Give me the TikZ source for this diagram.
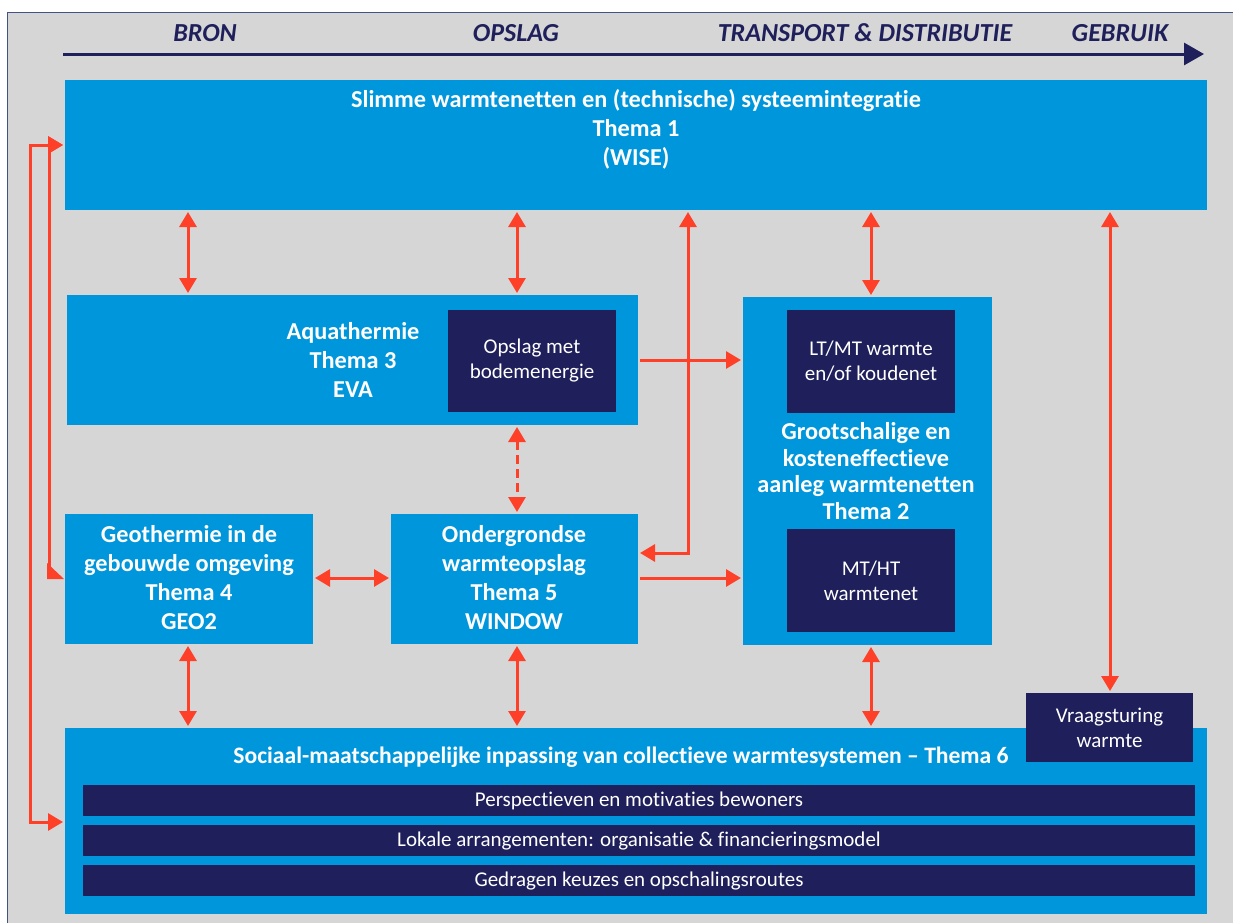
\documentclass[tikz,border=0pt]{standalone}
\usepackage{fontspec}
\setmainfont{Carlito}[Ligatures=NoCommon]
\usetikzlibrary{arrows.meta}
\definecolor{lblue}{RGB}{0,150,220}
\definecolor{navy}{RGB}{31,31,91}
\definecolor{bggray}{RGB}{214,214,214}
\definecolor{arrred}{RGB}{255,64,40}
\definecolor{framecol}{RGB}{68,84,130}
\begin{document}
\begin{tikzpicture}[x=1pt,y=-1pt,
  lbox/.style={fill=lblue, draw=none, inner sep=0pt, outer sep=0pt, anchor=north west},
  dbox/.style={fill=navy, text=white, inner sep=0pt, outer sep=0pt, anchor=north west, align=center, font=\fontsize{21}{25}\selectfont},
  ttl/.style={text=white, font=\bfseries\fontsize{24.3}{29}\selectfont, align=center, inner sep=0pt},
  hdr/.style={text=navy, font=\bfseries\itshape\fontsize{26}{30}\selectfont, inner sep=0pt},
  arr/.style={draw=arrred, line width=3pt, {Triangle[length=15pt,width=17pt]}-{Triangle[length=15pt,width=17pt]}, shorten <=2pt, shorten >=2pt},
  arrone/.style={draw=arrred, line width=3pt, -{Triangle[length=15pt,width=17pt]}, shorten <=2pt, shorten >=2pt},
  arrstart/.style={draw=arrred, line width=3pt, {Triangle[length=15pt,width=17pt]}-, shorten <=2pt}]
\useasboundingbox (0,0) rectangle (1233,922);
\fill[white] (0,0) rectangle (1233,922);
\draw[fill=bggray, draw=framecol, line width=1pt] (7,12) rectangle (1245,935);

% header
\node[hdr] (bron) at (205,33) {BRON};
\node[hdr] (opslag) at (516,33) {OPSLAG};
\node[hdr] (transp) at (865,33) {TRANSPORT \& DISTRIBUTIE};
\node[hdr] (gebruik) at (1120,33) {GEBRUIK};
\coordinate (hs) at (63,54);
\coordinate (he) at (1204,54);
\draw[navy, line width=3pt, -{Triangle[length=20pt,width=22pt]}] (hs) -- (he);

% boxes
\node[lbox, minimum width=1142, minimum height=130] (wise) at (65,80) {};
\node[ttl] (wiset) at (636,129.5) {Slimme warmtenetten en (technische) systeemintegratie\\Thema 1\\(WISE)};

\node[lbox, minimum width=571, minimum height=130] (aq) at (67,295) {};
\node[ttl] (aqt) at (353,360) {Aquathermie\\Thema 3\\EVA};
\node[dbox, minimum width=168, minimum height=102] (opsl) at (448,310) {Opslag met\\bodemenergie};

\node[lbox, minimum width=249, minimum height=348] (t2) at (743,297) {};
\node[dbox, minimum width=168, minimum height=103] (ltmt) at (787,310) {LT/MT warmte\\en/of koudenet};
\node[dbox, minimum width=168, minimum height=103] (mtht) at (787,529) {MT/HT\\warmtenet};
\node[ttl, font=\bfseries\fontsize{24.3}{26.5}\selectfont] (t2t) at (866,471) {Grootschalige en\\kosteneffectieve\\aanleg warmtenetten\\Thema 2};

\node[lbox, minimum width=248, minimum height=130] (geo) at (65,514) {};
\node[ttl] (geot) at (189,578) {Geothermie in de\\gebouwde omgeving\\Thema 4\\GEO2};

\node[lbox, minimum width=247, minimum height=130] (ond) at (391,514) {};
\node[ttl] (ondt) at (514,578) {Ondergrondse\\warmteopslag\\Thema 5\\WINDOW};

\node[lbox, minimum width=1142, minimum height=186] (t6) at (65,728) {};
\node[ttl, font=\bfseries\fontsize{23.6}{29}\selectfont] (t6t) at (621,757) {Sociaal-maatschappelijke inpassing van collectieve warmtesystemen -- Thema 6};
\node[dbox, minimum width=1112, minimum height=31] (r1) at (83,785) {Perspectieven en motivaties bewoners};
\node[dbox, minimum width=1112, minimum height=31] (r2) at (83,825) {Lokale arrangementen: organisatie \& financieringsmodel};
\node[dbox, minimum width=1112, minimum height=31] (r3) at (83,865) {Gedragen keuzes en opschalingsroutes};
\node[dbox, minimum width=167, minimum height=69] (vraag) at (1026,693) {Vraagsturing\\warmte};

% connector coordinates
\coordinate (cA) at (188,0);
\coordinate (cB) at (517,0);
\coordinate (cC) at (688,0);
\coordinate (cD) at (871,0);
\coordinate (cE) at (1110,0);
\coordinate (rW) at (0,145);
\coordinate (rG) at (0,578);
\coordinate (rGb) at (0,579);
\coordinate (rT) at (0,822);
\coordinate (rQ) at (0,553);
\coordinate (rAq) at (0,360);
\coordinate (lxa) at (30,0);
\coordinate (lxb) at (49,0);

% connectors
\draw[arr] (wise.south -| cA) -- (aq.north -| cA);
\draw[arr] (wise.south -| cB) -- (aq.north -| cB);
\draw[arr] (wise.south -| cD) -- (t2.north -| cD);
\draw[arr] (wise.south -| cE) -- (vraag.north -| cE);
\draw[arr, dash pattern=on 9pt off 5pt] (aq.south -| cB) -- (ond.north -| cB);
\draw[arr] (geo.east |- rG) -- (ond.west |- rG);
\draw[arrone] (ond.east |- rG) -- (t2.west |- rG);
\draw[arrone] (aq.east |- rAq) -- (t2.west |- rAq);
\draw[arr] (wise.south -| cC) -- (cC |- rQ) -- (ond.east |- rQ);
\draw[arr] (geo.south -| cA) -- (t6.north -| cA);
\draw[arr] (ond.south -| cB) -- (t6.north -| cB);
\draw[arr] (t2.south -| cD) -- (t6.north -| cD);
\draw[arr] (wise.west |- rW) -- (lxa |- rW) -- (lxa |- rT) -- (t6.west |- rT);
\draw[arrstart] (wise.west |- rW) -- (lxb |- rW) -- (lxb |- rGb);
% half arrowhead where the connector meets Geothermie
\fill[arrred] ([xshift=-18pt,yshift=16pt]geo.west |- rGb) -- ([xshift=-18pt]geo.west |- rGb) -- ([xshift=-1pt]geo.west |- rGb) -- cycle;
\end{tikzpicture}
\end{document}
